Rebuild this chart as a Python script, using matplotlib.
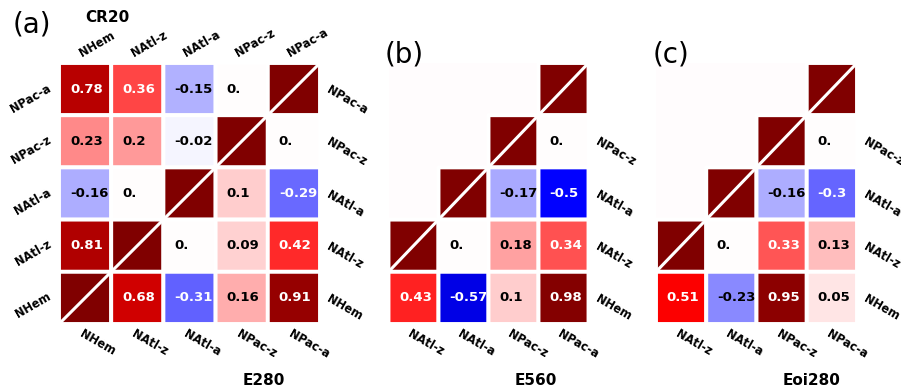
import numpy as np
import matplotlib
matplotlib.use("Agg")
import matplotlib.pyplot as plt
from matplotlib.transforms import blended_transform_factory, offset_copy

# index names, in column order of the left panel
regions = ["NHem", "NAtl-z", "NAtl-a", "NPac-z", "NPac-a"]

# upper-left triangle of (a): rows NPac-a, NPac-z, NAtl-a, NAtl-z vs NHem, NAtl-z, ...
cr20_rows = [
    [0.78, 0.36, -0.15, 0.0],
    [0.23, 0.20, -0.02],
    [-0.16, 0.0],
    [0.81],
]
# lower-right triangles: rows NPac-z, NAtl-a, NAtl-z, NHem vs ..., NPac-z, NPac-a
e280_rows = [
    [0.0],
    [0.10, -0.29],
    [0.0, 0.09, 0.42],
    [0.68, -0.31, 0.16, 0.91],
]
e560_rows = [
    [0.0],
    [-0.17, -0.50],
    [0.0, 0.18, 0.34],
    [0.43, -0.57, 0.10, 0.98],
]
eoi280_rows = [
    [0.0],
    [-0.16, -0.30],
    [0.0, 0.33, 0.13],
    [0.51, -0.23, 0.95, 0.05],
]

cmap = plt.get_cmap("seismic")
GAP = 2.8
FS_CELL = 9.5
FS_LAB = 8.3


def full_matrix(upper, lower):
    n = len(regions)
    m = np.full((n, n), np.nan)
    for r in range(n):
        m[r, n - 1 - r] = 1.0
    for r, row in enumerate(upper):
        m[r, :len(row)] = row
    for k, row in enumerate(lower):
        m[k + 1, n - len(row):] = row
    return m


def lower_matrix(lower):
    n = len(regions)
    m = np.full((n, n - 1), np.nan)
    for r in range(n - 1):
        m[r, n - 2 - r] = 1.0
    for k, row in enumerate(lower):
        m[k + 1, n - 1 - len(row):] = row
    return m


def fmt(v):
    return f"{v:.2f}".rstrip("0")


def draw(ax, m, facecolor="white"):
    nr, nc = m.shape
    ax.set_facecolor(facecolor)
    ax.pcolor(np.arange(nc + 1), np.arange(nr + 1), np.ma.masked_invalid(m),
              cmap=cmap, vmin=-1, vmax=1, edgecolors="white", linewidth=GAP)
    ax.set_xlim(0, nc)
    ax.set_ylim(nr, 0)
    # white stroke through the self-correlation cells
    ax.plot([0, nc], [nc, 0], color="white", lw=2.2, solid_capstyle="butt")
    for r in range(nr):
        for c in range(nc):
            v = m[r, c]
            if np.isnan(v) or v == 1.0:
                continue
            ax.text(c + 0.21, r + 0.5, fmt(v), ha="left", va="center",
                    fontsize=FS_CELL, fontweight="bold",
                    color="white" if abs(v) > 0.25 else "black")
    ax.set_xticks([])
    ax.set_yticks([])
    for s in ax.spines.values():
        s.set_visible(False)


def labels(ax, cols, rows_left, rows_right):
    fig = ax.figure
    nr = len(rows_right)
    xt = blended_transform_factory(ax.transData, ax.transAxes)
    yt = blended_transform_factory(ax.transAxes, ax.transData)
    kw = dict(fontsize=FS_LAB, fontweight="bold", rotation_mode="anchor")
    for c, name in enumerate(cols):
        ax.text(c + 0.5, 0, name, rotation=-30, ha="left", va="top",
                transform=offset_copy(xt, fig, x=-1, y=-3, units="dots"), **kw)
        if rows_left:
            ax.text(c + 0.5, 1, name, rotation=30, ha="left", va="bottom",
                    transform=offset_copy(xt, fig, x=-2, y=3, units="dots"), **kw)
    for r in range(nr):
        if rows_left:
            ax.text(0, r + 0.5, rows_left[r], rotation=30, ha="right", va="center",
                    transform=offset_copy(yt, fig, x=-9, y=2, units="dots"), **kw)
        if rows_right[r]:
            ax.text(1, r + 0.5, rows_right[r], rotation=-30, ha="left", va="center",
                    transform=offset_copy(yt, fig, x=8, y=0, units="dots"), **kw)


fig = plt.figure(figsize=(9.01, 3.90), dpi=100)
W, H = 901, 390
ax_a = fig.add_axes([59 / W, 66 / H, 261 / W, 261 / H])
ax_b = fig.add_axes([388.5 / W, 66 / H, 200 / W, 261 / H])
ax_c = fig.add_axes([656 / W, 66 / H, 201 / W, 261 / H])

rev = regions[::-1]
draw(ax_a, full_matrix(cr20_rows, e280_rows))
labels(ax_a, regions, rev, rev)
draw(ax_b, lower_matrix(e560_rows), facecolor="#fffcfd")
labels(ax_b, regions[1:], None, [""] + rev[1:])
draw(ax_c, lower_matrix(eoi280_rows), facecolor="#fffcfd")
labels(ax_c, regions[1:], None, [""] + rev[1:])

fig.text(13 / W, 1 - 33 / H, "(a)", fontsize=20, va="baseline")
fig.text(385 / W, 1 - 63 / H, "(b)", fontsize=20, va="baseline")
fig.text(653 / W, 1 - 63 / H, "(c)", fontsize=20, va="baseline")
fig.text(85 / W, 1 - 22 / H, "CR20", fontsize=11, fontweight="bold", va="baseline")
fig.text(264 / W, 1 - 385 / H, "E280", fontsize=11, fontweight="bold", ha="center", va="baseline")
fig.text(536 / W, 1 - 385 / H, "E560", fontsize=11, fontweight="bold", ha="center", va="baseline")
fig.text(812 / W, 1 - 385 / H, "Eoi280", fontsize=11, fontweight="bold", ha="center", va="baseline")

fig.savefig("out.png", dpi=100)
